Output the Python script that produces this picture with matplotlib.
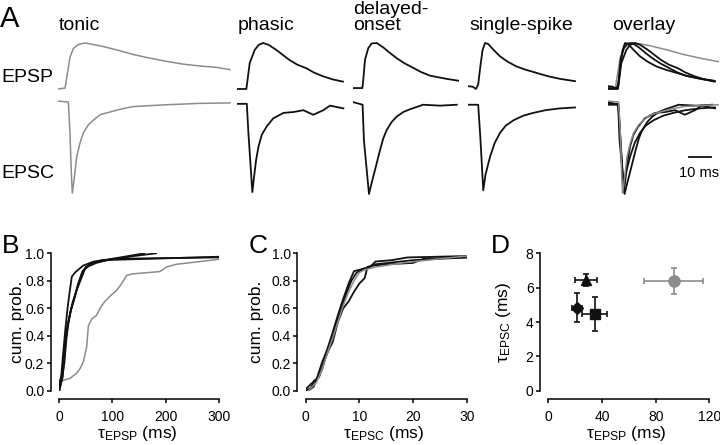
import numpy as np
import matplotlib
matplotlib.use('Agg')
import matplotlib.pyplot as plt

# Fonts: Arial-like text everywhere
plt.rcParams['font.family'] = ['Liberation Sans', 'DejaVu Sans']
BLACK = '#111111'
GRAY = '#8c8c8c'

# Panel A traces: time (ms from sweep start), amplitude normalised to peak
tonic_epsp_t = [0, 3.2, 4.4, 5.5, 7.0, 9.3, 12.3, 19, 26.7, 34.2, 41.8, 49.4, 56.9, 64.5, 72.1, 78.2]
tonic_epsp_v = [0, 0.02, 0.38, 0.70, 0.88, 0.97, 1.0, 0.94, 0.85, 0.75, 0.67, 0.60, 0.54, 0.50, 0.47, 0.42]
tonic_epsc_t = [0, 4.7, 5.45, 6.06, 6.5, 7.27, 8.5, 10.0, 11.5, 13.8, 16.1, 19.1, 23.6, 28.2, 34.2, 41.8, 49.4, 64.5, 78.2]
tonic_epsc_v = [0.01, 0.0, -0.34, -0.78, -1.0, -0.86, -0.6, -0.45, -0.34, -0.25, -0.2, -0.14, -0.11, -0.08, -0.05, -0.04, -0.03, -0.015, -0.01]

phasic_epsp_t = [0, 4.4, 5.9, 8.2, 10.0, 12.0, 14.5, 18, 21, 24, 27.5, 31.7, 35, 39, 43.5, 48.3]
phasic_epsp_v = [0, 0.0, 0.56, 0.85, 0.96, 1.0, 0.96, 0.85, 0.74, 0.63, 0.53, 0.45, 0.36, 0.28, 0.21, 0.16]
phasic_epsc_t = [0, 4.6, 5.3, 7.1, 7.9, 8.8, 9.9, 11.4, 13.6, 16.6, 21.2, 25.8, 30.3, 34.8, 39.4, 42.4, 48.5]
phasic_epsc_v = [-0.02, -0.02, -0.33, -0.99, -0.82, -0.64, -0.49, -0.36, -0.27, -0.18, -0.12, -0.11, -0.09, -0.14, -0.09, -0.04, -0.07]

delayed_epsp_t = [0, 4.4, 4.8, 5.6, 7.1, 8.6, 10.9, 14, 17, 20, 23.5, 27.5, 31, 35.1, 42.7, 48]
delayed_epsp_v = [0.02, 0.02, 0.2, 0.64, 0.89, 0.99, 1.0, 0.9, 0.78, 0.67, 0.56, 0.46, 0.37, 0.29, 0.22, 0.18]
delayed_epsc_t = [0, 4.5, 5.1, 7.4, 8.6, 10.1, 12.4, 13.9, 15.4, 17.7, 20, 23, 26, 32, 39.7, 47.3]
delayed_epsc_v = [0.0, -0.03, -0.42, -1.01, -0.89, -0.75, -0.53, -0.4, -0.31, -0.22, -0.16, -0.11, -0.08, -0.03, -0.04, -0.03]

single_epsp_t = [0, 2.0, 3.5, 4.5, 5.5, 6.5, 7.6, 9.0, 11.5, 14.4, 18, 21.9, 26, 31, 36, 41.7, 48.5]
single_epsp_v = [0.06, 0.05, 0.0, 0.1, 0.5, 0.85, 1.0, 0.98, 0.85, 0.71, 0.59, 0.49, 0.42, 0.35, 0.28, 0.22, 0.17]
single_epsc_t = [0, 4.5, 5.5, 6.8, 7.8, 9.9, 12.0, 14.4, 17.0, 20.6, 25.0, 29.5, 35.0, 41.7, 48.5]
single_epsc_v = [-0.03, -0.03, -0.4, -0.97, -0.8, -0.6, -0.45, -0.34, -0.26, -0.2, -0.15, -0.12, -0.09, -0.07, -0.06]

# Panel B: cumulative probability of tau_EPSP (ms)
b_tonic_x = [0, 20.6, 33, 39.4, 45.6, 51.9, 55, 61, 70.6, 77, 86, 99, 108, 117.5, 127, 137.5, 189, 201.5, 220, 264, 300]
b_tonic_y = [0.066, 0.09, 0.127, 0.16, 0.21, 0.32, 0.47, 0.52, 0.55, 0.6, 0.65, 0.7, 0.73, 0.78, 0.84, 0.85, 0.867, 0.9, 0.92, 0.94, 0.956]
b_ph_x = [0, 4, 8, 12, 16, 20, 24, 30, 45, 65, 100, 160]
b_ph_y = [0.02, 0.1, 0.28, 0.45, 0.6, 0.72, 0.83, 0.86, 0.91, 0.94, 0.96, 1.0]
b_do_x = [1, 5, 10, 14, 18, 23, 28, 35, 42, 50, 62, 90, 140, 182]
b_do_y = [0.0, 0.08, 0.2, 0.38, 0.5, 0.6, 0.66, 0.76, 0.84, 0.9, 0.93, 0.95, 0.98, 1.0]
b_ss_x = [0, 6, 12, 16, 22, 28, 36, 44, 52, 70, 100, 300]
b_ss_y = [0.05, 0.12, 0.36, 0.47, 0.58, 0.66, 0.78, 0.87, 0.9, 0.93, 0.96, 0.97]
b_x4 = [2, 7, 11, 15, 20, 26, 32, 40, 48, 58, 80, 300]
b_y4 = [0.03, 0.1, 0.3, 0.45, 0.55, 0.65, 0.72, 0.8, 0.88, 0.92, 0.95, 0.975]

# Panel C: cumulative probability of tau_EPSC (ms)
c1_x = [0, 1, 2, 3, 4, 5, 6, 7, 8, 9, 10, 12, 13, 16, 19, 30]
c1_y = [0.01, 0.05, 0.08, 0.2, 0.3, 0.42, 0.55, 0.67, 0.78, 0.87, 0.88, 0.9, 0.94, 0.95, 0.97, 0.98]
c2_x = [0, 1, 1.5, 2.5, 3.5, 4.5, 5.5, 6.5, 7.5, 8.5, 9.5, 11, 12.5, 15, 20, 22, 30]
c2_y = [0.0, 0.02, 0.07, 0.1, 0.22, 0.32, 0.48, 0.58, 0.7, 0.8, 0.86, 0.89, 0.91, 0.92, 0.93, 0.96, 0.97]
c3_x = [0.5, 1.5, 2, 3, 4, 5, 6, 7, 8, 9, 10, 11, 11.5, 13, 20, 30]
c3_y = [0.0, 0.03, 0.08, 0.15, 0.28, 0.35, 0.5, 0.6, 0.65, 0.72, 0.78, 0.82, 0.9, 0.92, 0.95, 0.97]
c_tonic_x = [0.5, 2, 3, 4, 5, 6, 7, 8, 9, 10, 11, 13, 18, 25, 30]
c_tonic_y = [0.0, 0.06, 0.15, 0.27, 0.38, 0.5, 0.62, 0.72, 0.8, 0.86, 0.88, 0.9, 0.93, 0.96, 0.98]

# Panel D: mean tau values with errors
d_markers = ['^', 'D', 's', 'o']
d_colors = [BLACK, BLACK, BLACK, GRAY]
d_sizes = [7, 6, 6.5, 8]
d_epsp = [28.1, 21.6, 34.5, 93.6]
d_epsp_err = [8.0, 3.7, 9.2, 22.0]
d_epsc = [6.45, 4.83, 4.47, 6.39]
d_epsc_err = [0.35, 0.83, 1.0, 0.75]

W, H = 720, 445
PX_PER_MS = 2.2
fig = plt.figure(figsize=(W / 100, H / 100), dpi=100)


def px_axes(x0, y0, x1, y1):
    return fig.add_axes([x0 / W, 1 - y1 / H, (x1 - x0) / W, (y1 - y0) / H])


# ---- Panel A ----
columns = [
    (58.0, 79, [(tonic_epsp_t, tonic_epsp_v, GRAY)], [(tonic_epsc_t, tonic_epsc_v, GRAY)]),
    (236.7, 49, [(phasic_epsp_t, phasic_epsp_v, BLACK)], [(phasic_epsc_t, phasic_epsc_v, BLACK)]),
    (352.7, 48.5, [(delayed_epsp_t, delayed_epsp_v, BLACK)], [(delayed_epsc_t, delayed_epsc_v, BLACK)]),
    (468.3, 49, [(single_epsp_t, single_epsp_v, BLACK)], [(single_epsc_t, single_epsc_v, BLACK)]),
    (608.3, 50.5,
     [(tonic_epsp_t, tonic_epsp_v, GRAY), (phasic_epsp_t, phasic_epsp_v, BLACK),
      (delayed_epsp_t, delayed_epsp_v, BLACK), (single_epsp_t, single_epsp_v, BLACK)],
     [(phasic_epsc_t, phasic_epsc_v, BLACK), (delayed_epsc_t, delayed_epsc_v, BLACK),
      (single_epsc_t, single_epsc_v, BLACK), (tonic_epsc_t, tonic_epsc_v, GRAY)]),
]

for x0, span, epsps, epscs in columns:
    x1 = x0 + span * PX_PER_MS
    ax_p = px_axes(x0, 38.4, x1, 94.5)
    ax_c = px_axes(x0, 92.9, x1, 197.6)
    for t, v, col in epsps:
        ax_p.plot(t, v, color=col, lw=1.3 if col == BLACK else 1.1)
    for t, v, col in epscs:
        ax_c.plot(t, v, color=col, lw=1.3 if col == BLACK else 1.1)
    ax_p.set_xlim(0, span)
    ax_p.set_ylim(-0.12, 1.1)
    ax_c.set_xlim(0, span)
    ax_c.set_ylim(-1.05, 0.1)
    ax_p.axis('off')
    ax_c.axis('off')

# scale bar (10 ms) in overlay EPSC axes
ax_c.plot([36.8, 46.8], [-0.6, -0.6], color=BLACK, lw=1.3)
ax_c.text(41.3, -0.82, '10 ms', ha='center', va='baseline', fontsize=10.5)

fig.text(0 / W, 1 - 19 / H, 'A', fontsize=21, va='center', ha='left')
for label, x, y in [('tonic', 58.3, 30.5), ('phasic', 237.3, 30.5), ('delayed-', 352.7, 14),
                    ('onset', 352.7, 29.5), ('single-spike', 469, 30.5), ('overlay', 611.7, 30.5)]:
    fig.text(x / W, 1 - y / H, label, fontsize=14, va='baseline', ha='left')
fig.text(1.7 / W, 1 - 81.7 / H, 'EPSP', fontsize=14, va='baseline', ha='left')
fig.text(1.7 / W, 1 - 178.3 / H, 'EPSC', fontsize=14, va='baseline', ha='left')


# ---- Panels B-D ----
def style_axes(ax):
    for side in ['top', 'right']:
        ax.spines[side].set_visible(False)
    for side in ['left', 'bottom']:
        ax.spines[side].set_position(('outward', 6))
        ax.spines[side].set_linewidth(1.1)
    ax.tick_params(axis='both', length=3.1, width=1.1, labelsize=10)
    ax.tick_params(axis='x', pad=4.5)
    ax.tick_params(axis='y', pad=1.5)


def set_labels(ax, xlabel, ylabel, ylab_x):
    ax.set_xlabel(xlabel, fontsize=12.5)
    ax.xaxis.set_label_coords(0.486, -0.347)
    ax.xaxis.label.set_va('baseline')
    ax.set_ylabel(ylabel, fontsize=12.5)
    ax.yaxis.set_label_coords(ylab_x, 0.5)


prob_labels = ['0.0', '0.2', '0.4', '0.6', '0.8', '1.0']

ax_b = px_axes(59, 253.3, 219, 390.7)
ax_b.plot(b_tonic_x, b_tonic_y, color=GRAY, lw=1.1)
for xs, ys in [(b_ph_x, b_ph_y), (b_do_x, b_do_y), (b_ss_x, b_ss_y), (b_x4, b_y4)]:
    ax_b.plot(xs, ys, color=BLACK, lw=1.3)
ax_b.set_xlim(0, 300)
ax_b.set_ylim(0, 1)
ax_b.set_xticks([0, 100, 200, 300])
ax_b.set_yticks(np.arange(0, 1.01, 0.2))
ax_b.set_yticklabels(prob_labels)
style_axes(ax_b)
set_labels(ax_b, r'$\mathregular{\tau_{EPSP}}$ (ms)', 'cum. prob.', -0.215)

ax_cc = px_axes(305.7, 253.3, 466.7, 390.7)
for xs, ys in [(c1_x, c1_y), (c2_x, c2_y), (c3_x, c3_y)]:
    ax_cc.plot(xs, ys, color=BLACK, lw=1.3)
ax_cc.plot(c_tonic_x, c_tonic_y, color=GRAY, lw=1.1)
ax_cc.set_xlim(0, 30)
ax_cc.set_ylim(0, 1)
ax_cc.set_xticks([0, 10, 20, 30])
ax_cc.set_yticks(np.arange(0, 1.01, 0.2))
ax_cc.set_yticklabels(prob_labels)
style_axes(ax_cc)
set_labels(ax_cc, r'$\mathregular{\tau_{EPSC}}$ (ms)', 'cum. prob.', -0.26)

ax_d = px_axes(548.3, 253.3, 709.3, 390.7)
for i in range(len(d_markers)):
    ax_d.errorbar(d_epsp[i], d_epsc[i], xerr=d_epsp_err[i], yerr=d_epsc_err[i],
                  marker=d_markers[i], color=d_colors[i], ms=d_sizes[i],
                  capsize=2.5, elinewidth=1.2, capthick=1.2, clip_on=False)
ax_d.set_xlim(0, 120)
ax_d.set_ylim(0, 8)
ax_d.set_xticks([0, 40, 80, 120])
ax_d.set_yticks([0, 2, 4, 6, 8])
style_axes(ax_d)
set_labels(ax_d, r'$\mathregular{\tau_{EPSP}}$ (ms)', r'$\mathregular{\tau_{EPSC}}$ (ms)', -0.217)

for letter, x in [('B', 1.5), ('C', 249), ('D', 491)]:
    fig.text(x / W, 1 - 246 / H, letter, fontsize=19, va='center', ha='left')

fig.savefig('out.png', dpi=100)
